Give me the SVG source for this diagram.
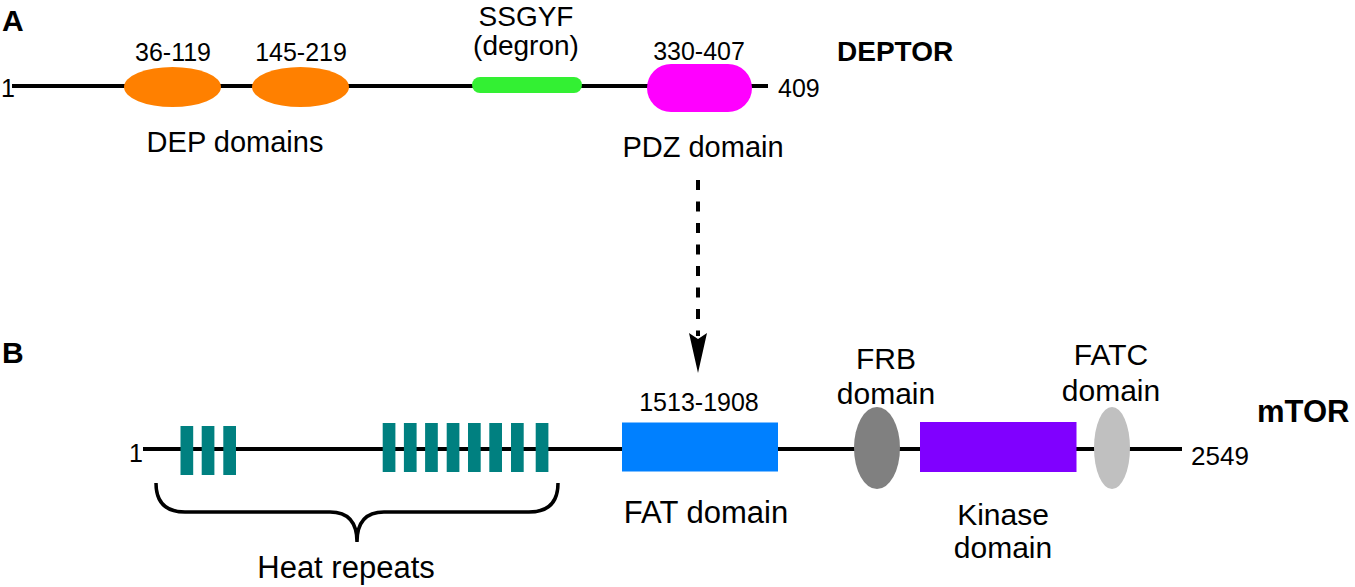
<svg xmlns="http://www.w3.org/2000/svg" width="1355" height="587" viewBox="0 0 1355 587">
<style>
text{font-family:"Liberation Sans",Arial,sans-serif;fill:#000}
.num{font-size:25px}
.lab{font-size:28px}
.labB{font-size:30px}
.bold{font-weight:bold}
.mid{text-anchor:middle}
.bb{stroke:#000;stroke-width:4;fill:none}
.teal{fill:#008080}
</style>
<rect width="1355" height="587" fill="#fff"/>
<text x="2" y="31" class="bold" style="font-size:30px">A</text>
<text x="2" y="363" class="bold" style="font-size:30px">B</text>

<g id="deptor">
<line x1="12" y1="86" x2="768" y2="86" class="bb"/>
<text x="1" y="97" class="num">1</text>
<text x="778" y="97" class="num">409</text>
<text x="837" y="61" class="bold" style="font-size:28px">DEPTOR</text>
</g>
<g id="dep1">
<ellipse cx="172.5" cy="87" rx="48.5" ry="20" fill="#FF8000"/>
<text x="173" y="61" class="num mid">36-119</text>
</g>
<g id="dep2">
<ellipse cx="300.5" cy="87" rx="48.5" ry="20" fill="#FF8000"/>
<text x="301" y="61" class="num mid">145-219</text>
</g>
<text x="235" y="152" class="mid" style="font-size:29px">DEP domains</text>
<g id="degron">
<rect x="472" y="77" width="110" height="16" rx="8" fill="#33F033"/>
<text x="526" y="26" class="lab mid">SSGYF</text>
<text x="526" y="55" class="lab mid">(degron)</text>
</g>
<g id="pdz">
<rect x="647" y="64" width="105" height="48" rx="24" fill="#FF00FF"/>
<text x="699" y="60" class="num mid">330-407</text>
<text x="703" y="157" class="mid" style="font-size:29px">PDZ domain</text>
</g>

<g id="connectors">
<line x1="698" y1="180" x2="698" y2="336" stroke="#000" stroke-width="4" stroke-dasharray="10 11.5"/>
<path d="M689,333 L698,339 L707,333 L698,373 Z" fill="#000"/>
</g>

<g id="mtor">
<line x1="143" y1="449" x2="1182" y2="449" class="bb"/>
<text x="129" y="462" class="num">1</text>
<text x="1191" y="465" style="font-size:26px">2549</text>
<text x="1257" y="422" class="bold" style="font-size:31px">mTOR</text>
</g>
<g id="heat">
<rect x="180.5" y="426" width="12.7" height="49" class="teal"/>
<rect x="201.7" y="426" width="12.7" height="49" class="teal"/>
<rect x="223.3" y="426" width="12.7" height="49" class="teal"/>
<rect x="382.7" y="423" width="12.7" height="49" class="teal"/>
<rect x="403.9" y="423" width="12.7" height="49" class="teal"/>
<rect x="425.1" y="423" width="12.7" height="49" class="teal"/>
<rect x="446.7" y="423" width="12.7" height="49" class="teal"/>
<rect x="468" y="423" width="12.7" height="49" class="teal"/>
<rect x="489.3" y="423" width="12.7" height="49" class="teal"/>
<rect x="511" y="423" width="12.7" height="49" class="teal"/>
<rect x="535.7" y="423" width="12.7" height="49" class="teal"/>
<path d="M156,483 Q156,512 185,512 L330,512 Q357,512 357,542 Q357,512 384,512 L529,512 Q558,512 558,483" fill="none" stroke="#000" stroke-width="3.5"/>
<text x="346" y="578" class="mid" style="font-size:31px">Heat repeats</text>
</g>
<g id="fat">
<rect x="622" y="422.5" width="156" height="49" fill="#0080FF"/>
<text x="699" y="411" class="num mid">1513-1908</text>
<text x="706" y="523" class="mid" style="font-size:31px">FAT domain</text>
</g>
<g id="frb">
<ellipse cx="877" cy="448" rx="23" ry="41" fill="#808080"/>
<text x="886" y="369" class="labB mid">FRB</text>
<text x="886" y="404" class="labB mid">domain</text>
</g>
<g id="kinase">
<rect x="920" y="422" width="156.5" height="50" fill="#8000FF"/>
<text x="1003" y="525" class="labB mid">Kinase</text>
<text x="1003" y="558" class="labB mid">domain</text>
</g>
<g id="fatc">
<ellipse cx="1112" cy="448" rx="18" ry="41" fill="#C0C0C0"/>
<text x="1111" y="365" class="labB mid">FATC</text>
<text x="1111" y="401" class="labB mid">domain</text>
</g>
</svg>
